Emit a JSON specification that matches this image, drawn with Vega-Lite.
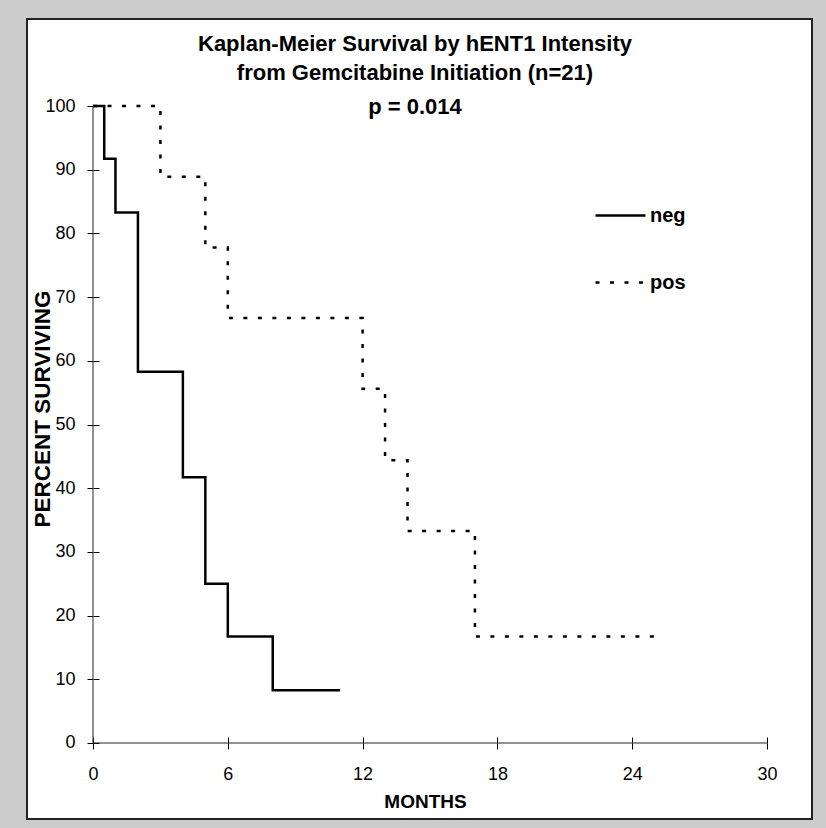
{
  "$schema": "https://vega.github.io/schema/vega-lite/v6.json",
  "width": 785,
  "height": 800,
  "autosize": {"type": "none"},
  "padding": {"left": 27, "top": 19, "right": 14, "bottom": 9},
  "background": "#CCCCCC",
  "config": {
    "font": "Liberation Sans",
    "view": {"fill": "white", "stroke": "#222222", "strokeWidth": 2},
    "axis": {"grid": false, "labelColor": "black", "tickColor": "black", "titleColor": "black", "labelFont": "Liberation Sans", "titleFont": "Liberation Sans"}
  },
  "title": {
    "text": ["Kaplan-Meier Survival by hENT1 Intensity", "from Gemcitabine Initiation (n=21)"],
    "subtitle": "p = 0.014",
    "font": "Liberation Sans",
    "subtitleFont": "Liberation Sans",
    "fontSize": 22,
    "fontWeight": "bold",
    "subtitleFontSize": 22,
    "subtitleFontWeight": "bold",
    "color": "black",
    "subtitleColor": "black",
    "lineHeight": 29,
    "subtitlePadding": 12,
    "anchor": "middle",
    "frame": "group",
    "offset": -100,
    "baseline": "top",
    "dx": -4.5
  },
  "layer": [
    {
      "data": {"values": [
        {"months": 0, "pct": 100, "group": "neg"},
        {"months": 0.5, "pct": 91.7, "group": "neg"},
        {"months": 1, "pct": 83.3, "group": "neg"},
        {"months": 2, "pct": 58.3, "group": "neg"},
        {"months": 4, "pct": 41.7, "group": "neg"},
        {"months": 5, "pct": 25.0, "group": "neg"},
        {"months": 6, "pct": 16.7, "group": "neg"},
        {"months": 8, "pct": 8.3, "group": "neg"},
        {"months": 11, "pct": 8.3, "group": "neg"},
        {"months": 0, "pct": 100, "group": "pos"},
        {"months": 3, "pct": 88.9, "group": "pos"},
        {"months": 5, "pct": 77.8, "group": "pos"},
        {"months": 6, "pct": 66.7, "group": "pos"},
        {"months": 12, "pct": 55.6, "group": "pos"},
        {"months": 13, "pct": 44.4, "group": "pos"},
        {"months": 14, "pct": 33.3, "group": "pos"},
        {"months": 17, "pct": 16.7, "group": "pos"},
        {"months": 25, "pct": 16.7, "group": "pos"}
      ]},
      "mark": {"type": "line", "interpolate": "step-after", "strokeWidth": 2.5, "color": "black"},
      "encoding": {
        "x": {
          "field": "months", "type": "quantitative",
          "scale": {"domain": [-2.9377, 32.0026], "nice": false, "zero": false},
          "axis": {
            "orient": "bottom", "offset": -76, "values": [0, 6, 12, 18, 24, 30],
            "domain": false, "grid": false, "tickSize": 6, "tickWidth": 1,
            "labelFontSize": 18, "labelPadding": 16,
            "title": "MONTHS", "titleFontSize": 19, "titleFontWeight": "bold",
            "titleX": 398, "titleY": 64, "titleBaseline": "alphabetic", "titleAlign": "center"
          }
        },
        "y": {
          "field": "pct", "type": "quantitative",
          "scale": {"domain": [-11.931, 113.658], "nice": false, "zero": false},
          "axis": {
            "orient": "left", "offset": -66, "values": [0, 10, 20, 30, 40, 50, 60, 70, 80, 90, 100],
            "domain": false, "grid": false, "tickSize": 6, "tickWidth": 1,
            "labelFontSize": 18, "labelPadding": 12,
            "title": "PERCENT SURVIVING", "titleFontSize": 22.5, "titleFontWeight": "bold",
            "titleX": -44, "titleY": 389.5, "titleBaseline": "alphabetic", "titleAlign": "center", "titleAngle": -90
          }
        },
        "strokeDash": {
          "field": "group", "type": "nominal",
          "scale": {"domain": ["neg", "pos"], "range": [[1, 0], [4, 10.5]]},
          "legend": {
            "orient": "none", "legendX": 567, "legendY": 170, "title": null,
            "symbolType": "stroke", "symbolSize": 2500, "symbolStrokeWidth": 2.5,
            "symbolStrokeColor": "black", "labelFontSize": 20, "labelFontWeight": "bold",
            "labelColor": "black", "labelFont": "Liberation Sans", "labelOffset": 3, "rowPadding": 30, "padding": 0
          }
        }
      }
    },
    {
      "data": {"values": [{}]},
      "mark": {"type": "rule", "color": "#222222", "strokeWidth": 1},
      "encoding": {
        "x": {"datum": 0, "type": "quantitative", "axis": {
          "orient": "bottom", "offset": -82, "values": [0, 6, 12, 18, 24, 30],
          "domain": false, "labels": false, "grid": false, "tickSize": 6, "tickWidth": 1, "title": null}},
        "x2": {"datum": 30},
        "y": {"datum": 0, "type": "quantitative", "axis": null}
      }
    },
    {
      "data": {"values": [{}]},
      "mark": {"type": "rule", "color": "#222222", "strokeWidth": 1},
      "encoding": {
        "x": {"datum": 0, "type": "quantitative", "axis": null},
        "y": {"datum": 0, "type": "quantitative", "axis": {
          "orient": "left", "offset": -72, "values": [0, 10, 20, 30, 40, 50, 60, 70, 80, 90, 100],
          "domain": false, "labels": false, "grid": false, "tickSize": 6, "tickWidth": 1, "title": null}},
        "y2": {"datum": 100}
      }
    }
  ],
  "resolve": {"axis": {"x": "independent", "y": "independent"}}
}
